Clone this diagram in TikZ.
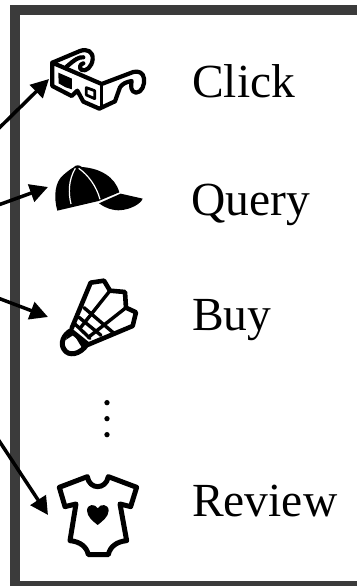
\documentclass[tikz,border=0pt]{standalone}
\usepackage{fontspec}
\setmainfont{Liberation Serif}
\usetikzlibrary{arrows.meta}
\definecolor{framegrey}{HTML}{3B3B3B}
\tikzset{
  labeltext/.style={anchor=base west,inner sep=0pt,font=\fontsize{47.5}{50}\selectfont,text=black},
  tipnode/.style={anchor=west,inner sep=0pt,minimum size=0pt,outer sep=0pt},
  feedarrow/.style={line width=3.5pt,-{Triangle[length=18pt,width=18pt]},shorten >=0pt},
  iconline/.style={line width=4.2pt,line join=round,line cap=round,draw=black},
  zoomA/.style={x=0.3333pt,y=-0.3333pt},
  zoomB/.style={x=0.3333pt,y=-0.3333pt,yshift=-260pt},
  seam/.style={draw=white,line width=1.2pt}
}
\begin{document}
\begin{tikzpicture}[x=1pt,y=-1pt]
\useasboundingbox (0,0) rectangle (357,586);
\clip (0,0) rectangle (357,586);
\fill[white] (0,0) rectangle (357,586);
% frame
\fill[framegrey] (10,5) rectangle (357,15);
\fill[framegrey] (10,5) rectangle (20,586);
\fill[framegrey] (10,581) rectangle (357,586);
% labels
\node[labeltext] (click) at (192,97) {Click};
\node[labeltext] (query) at (191,215) {Query};
\node[labeltext] (buy) at (192,330) {Buy};
\node[labeltext] (review) at (192,516) {Review};
% arrow targets
\node[tipnode] (glasses) at (49,79) {};
\node[tipnode] (cap) at (48,187) {};
\node[tipnode] (shuttle) at (48,317) {};
\node[tipnode] (onesie) at (48,515) {};
\coordinate (fa) at (-10,137);
\coordinate (fb) at (-10,208);
\coordinate (fc) at (-10,295);
\coordinate (fd) at (-10,427);
\draw[feedarrow] (fa) -- (glasses.west);
\draw[feedarrow] (fb) -- (cap.west);
\draw[feedarrow] (fc) -- (shuttle.west);
\draw[feedarrow] (fd) -- (onesie.west);
% glasses
\begin{scope}[zoomA]
\draw[iconline,fill=white] (157,188) -- (240,153) .. controls (262,145) and (280,155) .. (278,178)
  .. controls (276,200) and (258,216) .. (245,210) .. controls (236,204) and (240,192) .. (250,190);
\draw[iconline] (250,172) .. controls (238,170) and (225,178) .. (200,200);
\draw[iconline,fill=white] (157,188) -- (157,258) -- (215,288) -- (232,272) -- (250,305) -- (298,326) -- (345,304)
  -- (360,262) .. controls (368,250) and (380,246) .. (395,243)
  .. controls (392,258) and (392,276) .. (408,278) .. controls (425,278) and (435,255) .. (432,235)
  .. controls (430,218) and (415,212) .. (400,216) -- (305,252) -- cycle;
\draw[iconline,line width=2.6pt] (305,252) -- (305,324);
\draw[iconline,line width=2.6pt] (305,252) -- (157,188);
\fill[black] (175,218) -- (216,236) -- (216,268) -- (197,262) -- (176,250) -- cycle;
\draw[line width=2.8pt,line join=round] (259,263) -- (284,272) -- (284,296) -- (259,285) -- cycle;
% cap
\fill[black] (172,632) .. controls (160,590) and (165,545) .. (190,525) .. controls (205,512) and (215,505) .. (220,503)
  .. controls (225,494) and (240,494) .. (245,501) .. controls (300,505) and (345,530) .. (358,577)
  -- (296,603) -- cycle;
\fill[black] (362,581) -- (428,596) .. controls (425,608) and (395,630) .. (355,631)
  .. controls (330,630) and (310,620) .. (297,610) -- cycle;
\draw[seam] (226,505) .. controls (205,540) and (205,580) .. (213,612);
\draw[seam] (236,505) .. controls (265,525) and (290,560) .. (300,598);
\end{scope}
% shuttlecock
\begin{scope}[zoomB]
\draw[iconline,line width=4.6pt] (215,205) -- (272,68) -- (312,62) -- (330,92) -- (375,96) -- (378,143) -- (408,157) -- (398,198) -- (262,255);
\draw[iconline,line width=3.4pt] (330,92) -- (240,205);
\draw[iconline,line width=3.4pt] (378,143) -- (265,232);
\draw[iconline,line width=3.4pt] (252,143) -- (342,220);
\draw[iconline,line width=3.4pt] (237,172) -- (303,226);
\draw[iconline,line width=3.4pt] (225,192) -- (270,235);
\draw[black,line width=5pt,fill=white,line join=round] (212,212)
  .. controls (190,225) and (180,250) .. (192,268) .. controls (205,290) and (240,285) .. (262,252)
  -- cycle;
\fill[black] (212,210) -- (262,252) -- (245,262) -- (222,224) -- (197,240) -- cycle;
% onesie
\draw[iconline,line width=5pt] (262,650) .. controls (268,690) and (318,690) .. (325,650)
  -- (410,682) -- (392,740) -- (360,732) -- (380,842)
  .. controls (350,845) and (330,860) .. (325,884) -- (265,884)
  .. controls (260,860) and (240,845) .. (210,842)
  -- (228,732) -- (195,740) -- (178,682) -- cycle;
\fill[black] (293,795) .. controls (280,785) and (261,770) .. (261,752)
  .. controls (261,732) and (285,730) .. (293,745)
  .. controls (301,730) and (326,732) .. (326,752)
  .. controls (326,770) and (306,785) .. (293,795) -- cycle;
\fill[black] (321,428) circle[radius=8];
\fill[black] (321,476) circle[radius=8];
\fill[black] (321,524) circle[radius=8];
\end{scope}
\end{tikzpicture}
\end{document}
